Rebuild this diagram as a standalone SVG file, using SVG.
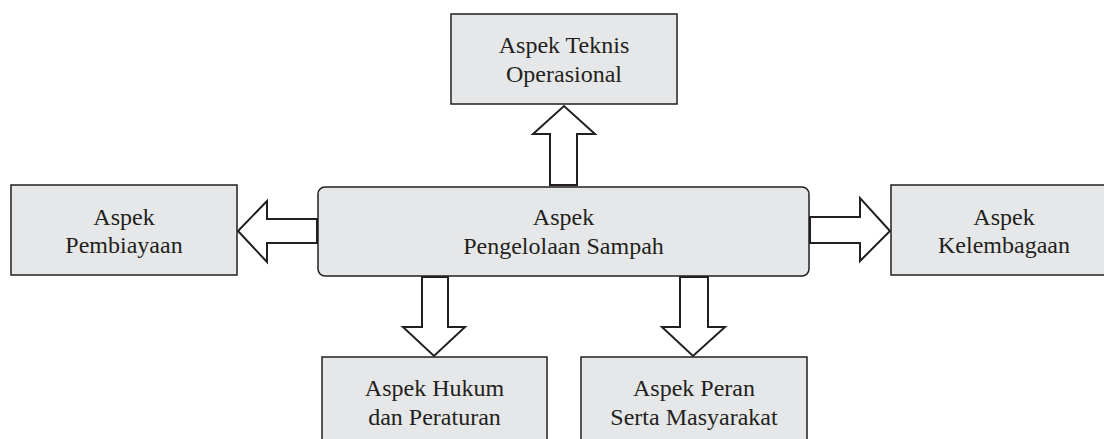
<svg xmlns="http://www.w3.org/2000/svg" width="1104" height="439" viewBox="0 0 1104 439">
<style>
.box{fill:#e6e7e8;stroke:#231f20;stroke-width:1.5}
.arr{fill:#ffffff;stroke:#231f20;stroke-width:2;stroke-linejoin:miter}
.t{font-family:"Liberation Serif",Tinos,"Times New Roman",Times,"DejaVu Serif","Noto Serif",serif;font-size:24px;fill:#231f20;text-anchor:middle}
</style>
<rect width="1104" height="439" fill="#ffffff"/>
<g id="connectors">
<path class="arr" d="M550,185 L550,134 L533,134 L564,106 L595,134 L577,134 L577,185 Z"/>
<path class="arr" d="M317,219 L267,219 L267,201 L238,231 L267,262 L267,243 L317,243 Z"/>
<path class="arr" d="M810,217 L860,217 L860,198 L890,231 L860,261 L860,243 L810,243 Z"/>
<path class="arr" d="M422,277 L422,327 L403,327 L434,356 L465,327 L448,327 L448,277 Z"/>
<path class="arr" d="M680,277 L680,327 L662,327 L693,356 L725,327 L708,327 L708,277 Z"/>
</g>
<g id="top">
<rect class="box" x="451" y="14" width="226" height="90"/>
<text class="t" x="564" y="53">Aspek Teknis</text>
<text class="t" x="564" y="82">Operasional</text>
</g>
<g id="center">
<rect class="box" x="318" y="187" width="491" height="89" rx="7"/>
<text class="t" x="563.5" y="225">Aspek</text>
<text class="t" x="563.5" y="254">Pengelolaan Sampah</text>
</g>
<g id="left">
<rect class="box" x="11" y="185" width="226" height="90"/>
<text class="t" x="124" y="225">Aspek</text>
<text class="t" x="124" y="253">Pembiayaan</text>
</g>
<g id="right">
<rect class="box" x="891" y="185" width="226" height="90"/>
<text class="t" x="1004" y="225">Aspek</text>
<text class="t" x="1004" y="253">Kelembagaan</text>
</g>
<g id="bottom-left">
<rect class="box" x="322" y="357" width="225" height="95"/>
<text class="t" x="434.5" y="396">Aspek Hukum</text>
<text class="t" x="434.5" y="425">dan Peraturan</text>
</g>
<g id="bottom-right">
<rect class="box" x="581" y="357" width="226" height="95"/>
<text class="t" x="694" y="396">Aspek Peran</text>
<text class="t" x="694" y="425">Serta Masyarakat</text>
</g>
</svg>
